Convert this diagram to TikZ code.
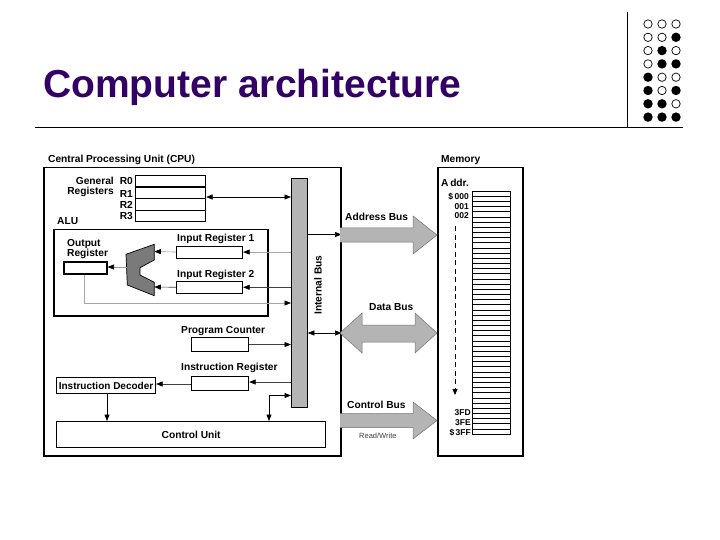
\documentclass[tikz,border=0pt]{standalone}
\usepackage{fontspec}
\setmainfont{Liberation Sans}
\usetikzlibrary{arrows.meta}
\definecolor{titlecol}{HTML}{330066}
\definecolor{busgray}{HTML}{B4B4B4}
\definecolor{alugray}{HTML}{7A7A7A}
\begin{document}
\begin{tikzpicture}[x=1pt,y=-1pt,
  lbl/.style={font=\fontsize{10.2}{11}\selectfont\bfseries, inner sep=0pt},
  small/.style={font=\fontsize{8.5}{9}\selectfont\bfseries, inner sep=0pt},
  box/.style={draw, line width=1.1pt, inner sep=0pt, anchor=north west},
  arr/.style={-{Triangle[length=6.5pt,width=5pt,color=black]}, line width=0.6pt},
  darr/.style={{Triangle[length=6.5pt,width=5pt,color=black]}-{Triangle[length=6.5pt,width=5pt,color=black]}, line width=0.6pt},
  bigarrow/.style={fill=busgray, draw=black!55, line width=0.5pt}
]
\useasboundingbox (0,0) rectangle (720,540);
\fill[white] (0,0) rectangle (720,540);

% ---------- slide frame ----------
\node[anchor=base west, inner sep=0pt, text=titlecol,
      font=\fontsize{39}{44}\selectfont\bfseries] (title) at (43,98) {Computer architecture};
\coordinate (hl) at (35,128);
\coordinate (hr) at (683,128);
\draw[line width=1pt] (hl) -- (hr);
\coordinate (vt) at (627,12);
\draw[line width=1pt] (vt) -- (vt |- hl);

% binary dots
\foreach \r/\a/\b/\c in {0/0/0/0,1/0/0/1,2/0/1/0,3/0/1/1,4/1/0/0,5/1/0/1,6/1/1/0,7/1/1/1}{
  \foreach \x/\v in {648/\a,662/\b,676/\c}{
    \ifnum\v=1
      \fill[black] (\x,{24+\r*13.3}) circle (4.7pt);
    \else
      \draw[line width=0.7pt] (\x,{24+\r*13.3}) circle (4.2pt);
    \fi
  }
}

% ---------- CPU ----------
\node[lbl, anchor=base west] (cpulbl) at (48,163) {Central Processing Unit (CPU)};
\node[box, line width=1.5pt, minimum width=297pt, minimum height=288pt] (cpu) at (43,167) {};

% internal bus
\node[box, line width=0.8pt, fill=busgray, minimum width=16pt, minimum height=229pt] (bus) at (291,178) {};
\node[lbl, rotate=90] (buslbl) at (318,285) {Internal Bus};

% general registers
\node[box, minimum width=70pt, minimum height=46pt] (regs) at (135,175) {};
\draw[line width=1.3pt] (regs.west |- 0,187) -- (regs.east |- 0,187);
\draw[line width=0.6pt] (regs.west |- 0,198) -- (regs.east |- 0,198);
\draw[line width=0.6pt] (regs.west |- 0,210) -- (regs.east |- 0,210);
\node[lbl, anchor=base east] (lgen) at (114,185) {General};
\node[lbl, anchor=base east] (lreg) at (114,195) {Registers};
\node[lbl, anchor=base east] (r0) at (133,185) {R0};
\node[lbl, anchor=base east] (r1) at (133,197) {R1};
\node[lbl, anchor=base east] (r2) at (133,209) {R2};
\node[lbl, anchor=base east] (r3) at (133,220) {R3};
\draw[darr] (regs.east |- 0,197) -- (bus.west |- 0,197);

% ALU
\node[lbl, anchor=base west] (alulbl) at (57,225) {ALU};
\node[box, line width=1.5pt, minimum width=214pt, minimum height=86pt] (alu) at (53,229) {};
\node[lbl, anchor=base west] (outl1) at (67,246.5) {Output};
\node[lbl, anchor=base west] (outl2) at (67,256) {Register};
\node[box, line width=1.5pt, minimum width=43pt, minimum height=12pt] (outreg) at (63,261) {};
\node[lbl, anchor=base west] (in1lbl) at (177,241.5) {Input Register 1};
\node[box, minimum width=66pt, minimum height=12pt] (in1) at (176,245.5) {};
\node[lbl, anchor=base west] (in2lbl) at (177,277) {Input Register 2};
\node[box, minimum width=66pt, minimum height=12.5pt] (in2) at (176,280.5) {};

\draw[fill=alugray, line width=0.7pt]
  (126,254.3) -- (154.3,244.3) -- (154.3,260) -- (140,267.7) -- (140,275)
  -- (154.3,282.3) -- (154.3,295.7) -- (127.3,285) -- cycle;
\coordinate (aluin1) at (154.3,251.5);
\coordinate (aluin2) at (154.3,287);
\coordinate (aluout) at (126.5,267);

\draw[arr, draw=black!35] (bus.west |- in1.east) -- (in1.east);
\draw[arr, draw=black!75] (bus.west |- in2.east) -- (in2.east);
\draw[arr, draw=black!40] (in1.west) -- (aluin1);
\draw[arr, draw=black!75] (in2.west) -- (aluin2);
\draw[arr, draw=black!40] (aluout) -- (outreg.east |- aluout);
\coordinate (outdrop) at (84,303);
\draw[arr, draw=black!35] (outreg.south -| outdrop) -- (outdrop) -- (bus.west |- outdrop);

% program counter / instruction register
\node[lbl, anchor=base west] (pclbl) at (181,333) {Program Counter};
\node[box, minimum width=57pt, minimum height=14pt] (pc) at (191,337) {};
\draw[arr, draw=black!75] (pc.east) -- (bus.west |- pc.east);
\node[lbl, anchor=base west] (irlbl) at (181,370) {Instruction Register};
\node[box, minimum width=57pt, minimum height=14pt] (ir) at (191,376) {};
\draw[arr, draw=black!75] (bus.west |- 0,382) -- (ir.east |- 0,382);

\node[box, minimum width=99pt, minimum height=16pt, font=\fontsize{10}{11}\selectfont\bfseries] (dec) at (56,377) {Instruction Decoder};
\draw[arr, draw=black!75] (ir.west |- 0,384) -- (dec.east |- 0,384);

\node[box, line width=1.3pt, minimum width=269pt, minimum height=26pt, font=\fontsize{10.2}{11}\selectfont\bfseries] (cu) at (56,421) {Control Unit};
\coordinate (decdown) at (107,0);
\draw[arr] (dec.south -| decdown) -- (cu.north -| decdown);
\coordinate (cuup) at (269,395.5);
\draw[darr] (cu.north -| cuup) -- (cuup) -- (bus.west |- cuup);

% bus to CPU edge
\draw[arr] (bus.east |- 0,234.5) -- (cpu.east |- 0,234.5);
\draw[darr] (bus.east |- 0,333) -- (cpu.east |- 0,333);

% ---------- Memory ----------
\node[lbl, anchor=base west] (memlbl) at (441,163) {Memory};
\node[box, line width=1.5pt, minimum width=85pt, minimum height=288pt] (mem) at (437,167) {};
\node[box, line width=1pt, minimum width=38pt, minimum height=243pt] (cells) at (472,191) {};
\foreach \i in {1,...,46}{
  \draw[line width=0.6pt] (cells.west |- 0,{191+\i*5.17}) -- (cells.east |- 0,{191+\i*5.17});
}
\node[lbl, anchor=base west] (addr) at (441,187) {A\,ddr.};
\node[small, anchor=base east] (a0) at (469,199.5) {\$\,000};
\node[small, anchor=base east] (a1) at (469,210) {001};
\node[small, anchor=base east] (a2) at (469,218.5) {002};
\node[small, anchor=base east] (a3) at (471,415.5) {3FD};
\node[small, anchor=base east] (a4) at (471,425.5) {3FE};
\node[small, anchor=base east] (a5) at (471,435.5) {\$\,3FF};
\coordinate (dtop) at (455,226);
\coordinate (dbot) at (455,395);
\draw[line width=0.8pt, dash pattern=on 5pt off 3.5pt, -{Triangle[length=6pt,width=5pt]}] (dtop) -- (dbot);

% ---------- buses between CPU and memory ----------
\draw[bigarrow] (340,228) -- (413,228) -- (413,216) -- (437,235) -- (413,254) -- (413,242) -- (340,242);
\node[lbl, anchor=base west] (ablbl) at (345,221) {Address Bus};

\draw[bigarrow] (340,333) -- (362,313) -- (362,325) -- (415,325) -- (415,313) -- (437,333)
  -- (415,353) -- (415,342) -- (362,342) -- (362,353) -- cycle;
\node[lbl, anchor=base west] (dblbl) at (369,310) {Data Bus};

\draw[bigarrow] (340,413.5) -- (413,413.5) -- (413,402) -- (437,420.5) -- (413,439) -- (413,427.5) -- (340,427.5);
\node[lbl, anchor=base west] (cblbl) at (347,408) {Control Bus};
\node[inner sep=0pt, anchor=base west, text=black!75, font=\fontsize{7.5}{8}\selectfont] (rw) at (359,438) {Read/Write};

\end{tikzpicture}
\end{document}
